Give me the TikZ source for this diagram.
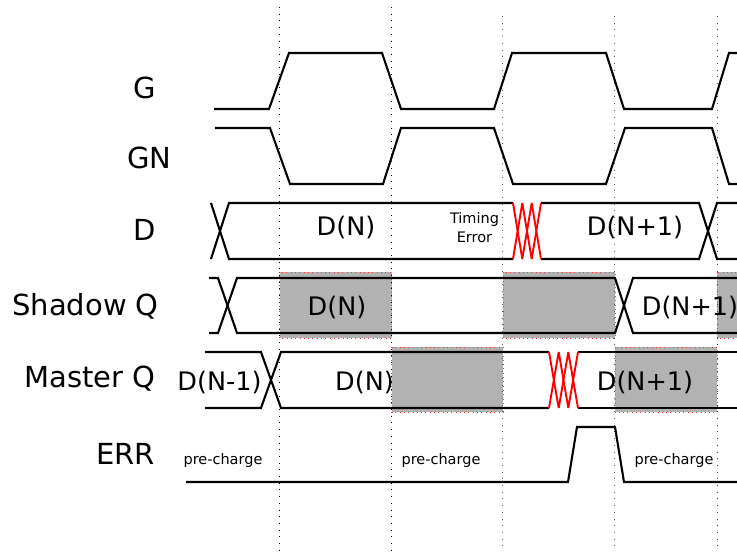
\documentclass[tikz,border=0pt]{standalone}
\usepackage{fontspec}
\setmainfont{DejaVu Sans}
\tikzset{
  sig/.style={line width=2.1pt, line join=miter, black},
  errx/.style={line width=1.9pt, red, line join=bevel},
  shade/.style={fill=black!30, draw=red!80, line width=0.6pt, dash pattern=on 0.8pt off 3.5pt},
  vgrid/.style={line width=1pt, dash pattern=on 1pt off 5.7pt},
  lab/.style={anchor=base, inner sep=0pt, font=\fontsize{29}{29}\selectfont},
  dat/.style={anchor=base, inner sep=0pt, font=\fontsize{25.5}{25.5}\selectfont},
  small/.style={anchor=base, inner sep=0pt, font=\fontsize{14.5}{14.5}\selectfont},
}
\begin{document}
\begin{tikzpicture}[x=1pt,y=-1pt]
\useasboundingbox (0,0) rectangle (737,552);
% shaded regions
\path[shade] (279.5,272) rectangle (391.5,338);
\path[shade] (503,272) rectangle (615,338);
\path[shade] (717,272) rectangle (738,338);
\path[shade] (391.5,347) rectangle (503,412);
\path[shade] (615,347) rectangle (717,412);
% vertical grid lines
\draw[vgrid] (279.3,7) -- (279.3,552);
\draw[vgrid] (391.3,7) -- (391.3,552);
\draw[vgrid, black!65] (502.7,16) -- (502.7,552);
\draw[vgrid, black!65] (614.7,16) -- (614.7,552);
\draw[vgrid, black!75] (717.3,16) -- (717.3,552);
% G
\draw[sig] (214,109) -- (269,109) -- (289,53) -- (382,53) -- (401,109) -- (494,109) -- (512,53) -- (606,53) -- (624,109) -- (712,109) -- (729,53) -- (738,53);
% GN
\draw[sig] (215,128) -- (270,128) -- (290,184) -- (383,184) -- (401,128) -- (494,128) -- (513,184) -- (606,184) -- (625,128) -- (712,128) -- (729,184) -- (738,184);
% D
\draw[sig] (211,259) -- (229,203) -- (513,203);
\draw[sig] (211,203) -- (229,259) -- (513,259);
\draw[sig] (541,203) -- (699,203) -- (717,259) -- (738,259);
\draw[sig] (541,259) -- (699,259) -- (717,203) -- (738,203);
\draw[errx] (513,203) -- (522.3,259) -- (531.7,203) -- (541,259);
\draw[errx] (513,259) -- (522.3,203) -- (531.7,259) -- (541,203);
% Shadow Q
\draw[sig] (209,278) -- (218,278) -- (237,333) -- (615,333) -- (633,278) -- (738,278);
\draw[sig] (209,333) -- (218,333) -- (237,278) -- (615,278) -- (633,333) -- (738,333);
% Master Q
\draw[sig] (205,352) -- (261,352) -- (281,408) -- (549,408);
\draw[sig] (205,408) -- (261,408) -- (281,352) -- (549,352);
\draw[sig] (578,408) -- (738,408);
\draw[sig] (578,352) -- (738,352);
\draw[errx] (549,352) -- (558.7,408) -- (568.3,352) -- (578,408);
\draw[errx] (549,408) -- (558.7,352) -- (568.3,408) -- (578,352);
% ERR
\draw[sig] (186,482) -- (568,482) -- (577,427) -- (615,427) -- (624,482) -- (738,482);
% labels
\node[lab] (lG) at (145,98.3) {G};
\node[lab] (lGN) at (149.5,168) {GN};
\node[lab] (lD) at (145,240) {D};
\node[lab] (lSQ) at (85.5,315.7) {Shadow Q};
\node[lab] (lMQ) at (90,387) {Master Q};
\node[lab] (lERR) at (125.5,464) {ERR};
% data labels
\node[dat] (dN) at (346,235) {D(N)};
\node[dat] (dN1) at (635,235) {D(N+1)};
\node[small] (te1) at (474.5,223) {Timing};
\node[small] (te2) at (474.5,242) {Error};
\node[dat] (sN) at (337,315) {D(N)};
\node[dat] (sN1) at (690,315) {D(N+1)};
\node[dat] (mN0) at (219.5,390) {D(N-1)};
\node[dat] (mN) at (364.5,390) {D(N)};
\node[dat] (mN1) at (645,390) {D(N+1)};
\node[small] (p1) at (223,464) {pre-charge};
\node[small] (p2) at (441,464) {pre-charge};
\node[small] (p3) at (674,464) {pre-charge};
\end{tikzpicture}
\end{document}
